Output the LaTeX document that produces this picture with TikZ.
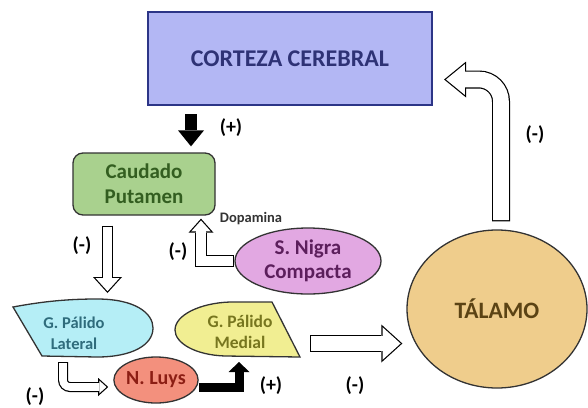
\documentclass[tikz,border=0pt]{standalone}
\usepackage{fontspec}
\setmainfont{Carlito}
\usetikzlibrary{arrows.meta,shapes.geometric}
\definecolor{cortfill}{HTML}{B3B7F4}
\definecolor{cortline}{HTML}{2C3587}
\definecolor{corttext}{HTML}{2E3275}
\definecolor{caudfill}{HTML}{A9D18E}
\definecolor{caudtext}{HTML}{335E20}
\definecolor{gplfill}{HTML}{B5EEF6}
\definecolor{gpltext}{HTML}{2F6C7C}
\definecolor{gpmfill}{HTML}{F1EE92}
\definecolor{gpmtext}{HTML}{77761F}
\definecolor{nigfill}{HTML}{E2A8E2}
\definecolor{nigtext}{HTML}{5C1F5C}
\definecolor{luysfill}{HTML}{F3907D}
\definecolor{luystext}{HTML}{8C1E14}
\definecolor{talfill}{HTML}{EFCD8C}
\definecolor{taltext}{HTML}{5B4314}
\definecolor{edge}{HTML}{333333}
\newcommand{\arrowborder}{1.2}
% hollow arrow: [options]{shaft}{head length}{head width}{shorten start}{shorten end}{path}
\newcommand{\hollowarrow}[7][]{%
  \pgfmathsetmacro\hsin{sin(atan(#4/(2*#3)))}%
  \pgfmathsetmacro\hli{#3-\arrowborder-\arrowborder/\hsin}%
  \pgfmathsetmacro\hwi{#4*\hli/#3}%
  \pgfmathsetmacro\hwl{#2-2*\arrowborder}%
  \pgfmathsetmacro\hsa{#5+\arrowborder}%
  \pgfmathsetmacro\hsb{#6+\arrowborder/\hsin}%
  \draw[#1, line width=#2pt, -{Triangle[length=#3pt,width=#4pt,line width=0pt]}, shorten <=#5pt, shorten >=#6pt] #7;
  \draw[#1, white, line width=\hwl pt, -{Triangle[length=\hli pt,width=\hwi pt,line width=0pt]}, shorten <=\hsa pt, shorten >=\hsb pt] #7;
}
\begin{document}
\begin{tikzpicture}[x=1pt,y=-1pt,font=\bfseries,
  blob/.style={draw=edge,line width=1.3pt},
  area/.style={blob,inner sep=0pt,align=center},
  sign/.style={font=\bfseries\fontsize{20}{22}\selectfont},
  blackarr/.style n args={3}{line width=#1pt,-{Triangle[length=#2pt,width=#3pt,line width=0pt]}}]
\useasboundingbox (0,0) rectangle (588,407);
\node[area,draw=cortline,line width=2.2pt,fill=cortfill,text=corttext,minimum width=284pt,minimum height=93pt,font=\bfseries\fontsize{24}{27}\selectfont] (corteza) at (290,58.5) {CORTEZA CEREBRAL};
\node[area,rounded corners=10pt,fill=caudfill,text=caudtext,minimum width=142pt,minimum height=62pt,font=\bfseries\fontsize{21}{25}\selectfont] (caudado) at (144,184) {Caudado\\Putamen};
\node[area,ellipse,fill=nigfill,text=nigtext,minimum width=146pt,minimum height=66pt,font=\bfseries\fontsize{21}{24}\selectfont] (snigra) at (308,261) {S. Nigra\\Compacta};
\node[area,ellipse,fill=luysfill,text=luystext,minimum width=82pt,minimum height=46pt,font=\bfseries\fontsize{20}{24}\selectfont] (nluys) at (156,380) {N. Luys};
\node[area,ellipse,fill=talfill,text=taltext,minimum width=180pt,minimum height=158pt,font=\bfseries\fontsize{23.5}{26}\selectfont] (talamo) at (497,309) {TÁLAMO};
% globos palidos
\path[blob,fill=gplfill] (13,307) .. controls (45,301) and (70,299) .. (97,299) .. controls (135,299) and (153,313) .. (153,328) .. controls (153,345) and (132,357) .. (97,357) -- (42,356) -- cycle;
\path[blob,fill=gpmfill] (272,302) -- (300,357) -- (225,356) .. controls (195,355) and (175,343) .. (175,330) .. controls (175,315) and (200,303) .. (230,302) -- cycle;
\node[align=center,text=gpltext,font=\bfseries\fontsize{16.5}{21}\selectfont] (gpl) at (74,333) {G. Pálido\\Lateral};
\node[align=center,text=gpmtext,font=\bfseries\fontsize{17.5}{21}\selectfont] (gpm) at (240,332) {G. Pálido\\Medial};
\path (107.5,300) coordinate (gpltop)
  (63,357) coordinate (gplbot)
  (239,356) coordinate (gpmbot)
  (293,343.5) coordinate (gpmeast);
% conexiones
\draw[blackarr={12}{16}{26},shorten <=8pt,shorten >=6pt] ([xshift=-99pt]corteza.south) -- ([xshift=47pt]caudado.north);
\hollowarrow{11}{16}{29}{10}{7}{([xshift=-36.5pt]caudado.south) -- (gpltop)}
\hollowarrow{12}{14}{25}{0}{3}{(snigra.west) -| ([xshift=57pt]caudado.south)}
\hollowarrow[rounded corners=7pt]{10}{10}{18}{5}{5}{(gplbot) |- ([yshift=-7pt]nluys.west)}
\draw[blackarr={9}{10}{21},shorten >=6pt] ([yshift=-7.5pt]nluys.east) -| (gpmbot);
\hollowarrow{17}{21}{38}{17}{4}{(gpmeast) -- (gpmeast -| talamo.west)}
\hollowarrow[rounded corners=22pt]{18}{22}{36}{8}{11}{([xshift=4pt]talamo.north) |- ([yshift=-21pt]corteza.east)}
\node[text=edge,font=\bfseries\fontsize{14.5}{16}\selectfont] (dopa) at (251,219) {Dopamina};
\foreach \n/\x/\y/\t in {s1/231/128/(+),s2/82/246/(-),s3/178/252/(-),s4/35/397/(-),s5/271/386/(+),s6/355/386/(-),s7/535/135/(-)}
  \node[sign] (\n) at (\x,\y) {\t};
\end{tikzpicture}
\end{document}
